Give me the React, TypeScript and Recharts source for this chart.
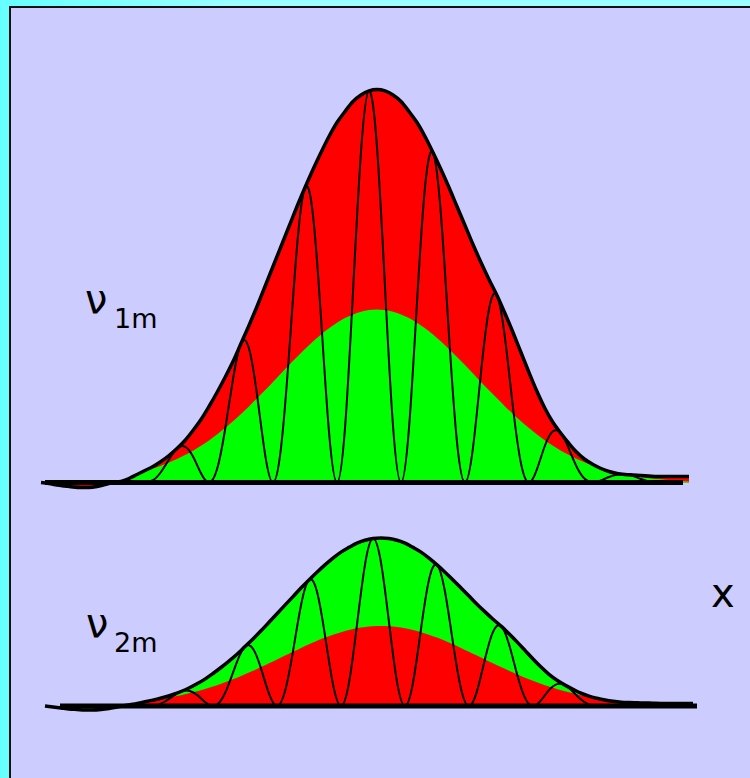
import React from 'react';
import { ComposedChart, Area, Line, XAxis, YAxis } from 'recharts';

// sample positions (px along the axis) for the upper and lower panels
const xTop = [
  41, 49, 57, 65, 73, 81, 89, 97, 105, 113,
  121, 129, 137, 145, 153, 161, 169, 177, 185, 193,
  201, 209, 217, 225, 233, 241, 249, 257, 265, 273,
  281, 289, 297, 305, 313, 321, 329, 337, 345, 353,
  361, 369, 377, 385, 393, 401, 409, 417, 425, 433,
  441, 449, 457, 465, 473, 481, 489, 497, 505, 513,
  521, 529, 537, 545, 553, 561, 569, 577, 585, 593,
  601, 609, 617, 625, 633, 641, 649, 657, 665, 673,
  681, 689,
];
const xBottom = [
  45, 53, 61, 69, 77, 85, 93, 101, 109, 117,
  125, 133, 141, 149, 157, 165, 173, 181, 189, 197,
  205, 213, 221, 229, 237, 245, 253, 261, 269, 277,
  285, 293, 301, 309, 317, 325, 333, 341, 349, 357,
  365, 373, 381, 389, 397, 405, 413, 421, 429, 437,
  445, 453, 461, 469, 477, 485, 493, 501, 509, 517,
  525, 533, 541, 549, 557, 565, 573, 581, 589, 597,
  605, 613, 621, 629, 637, 645, 653, 661, 669, 677,
  685, 693,
];

// upper panel: red envelope, green inner profile, oscillation
const topEnvelope = [
  0, -1, -2.5, -3.5, -4.5, -5, -5, -4, -2, 0,
  1, 4, 8, 12, 16, 21, 27, 34, 42, 52,
  63, 76, 90, 105, 121, 139, 157, 176, 196, 216,
  236, 256, 276, 295, 313, 330, 346, 360, 371, 381,
  387.5, 391.6, 393, 391.6, 387.5, 381, 371, 360, 346, 330,
  313, 295, 276, 257, 238, 220, 203, 187, 169, 150,
  130, 110, 91, 74, 60, 49, 39, 30, 23, 18,
  14, 11, 9, 8, 7.5, 7, 6.5, 6, 6, 6,
  6, 6,
];
const topInner = [
  0, 0, 0, 0, 0, 0, 0, 0, 0, 0,
  1, 4, 7.5, 11.5, 14.1, 16.8, 19.9, 23.4, 27.4, 31.8,
  36.8, 42.1, 48.1, 54.4, 61.3, 68.5, 76.1, 84.2, 92.3, 100.6,
  109, 117.4, 125.6, 133.5, 141, 147.9, 154.2, 159.7, 164.4, 168.1,
  170.8, 172.4, 173, 172.4, 170.8, 168.1, 164.4, 159.7, 154.2, 147.9,
  141, 133.5, 125.6, 117.4, 109, 100.6, 92.3, 84.2, 76.1, 68.5,
  61.3, 54.4, 48.1, 42.1, 36.8, 31.8, 27.4, 23.4, 19.9, 16.8,
  13.5, 10.5, 8.5, 7.5, 6.5, 5.3, 4.3, 3.4, 2.7, 2.0,
  1.5, 1.0,
];
const topWave = [
  null, null, null, null, null, null, null, null, null, null,
  null, null, null, 0, 2.3, 10.5, 23, 34, 35.9, 26,
  9.2, 0, 13.2, 52.5, 103.3, 139, 134, 88, 28.7, 0,
  34.6, 128, 235.6, 295, 267.2, 165, 50.7, 0, 54.3, 190.5,
  330.8, 391.6, 335.5, 195.8, 56.7, 0, 54.3, 180, 295.3, 330,
  267.2, 147.5, 40.4, 0, 34.8, 110, 173.3, 187, 144.3, 75,
  19, 0, 13.3, 37, 51.2, 49, 33.3, 15, 3.4, 0,
  2, 5.5, 7.7, 8, 6.4, 3.5, 1, 0, null, null,
  null, null,
];

// lower panel: green envelope, red inner profile, oscillation
const bottomEnvelope = [
  0, -1, -2, -3, -3.5, -4, -4, -3.5, -2.5, -1,
  0.5, 1.7, 3.4, 5.1, 6.8, 9, 11.5, 14.5, 18, 22.2,
  26.9, 32.5, 38.5, 44.9, 51.7, 59.4, 67.1, 75.2, 83.8, 92.3,
  100.9, 109.4, 118, 126.1, 133.8, 141.1, 147.9, 153.9, 158.6, 162.9,
  165.7, 167.4, 168, 167.4, 165.7, 162.9, 158.6, 153.9, 147.9, 141.1,
  133.8, 126.1, 118, 109.9, 101.7, 94.1, 86.8, 79.9, 72.2, 64.1,
  55.6, 47, 38.9, 31.6, 25.7, 20.9, 16.7, 12.8, 9.8, 7.7,
  6, 4.7, 3.8, 3.4, 3.2, 3, 2.8, 2.6, 2.6, 2.6,
  2.6, 2.6,
];
const bottomInner = [
  0, 0, 0, 0, 0, 0, 0, 0, 0, 0,
  0.3, 1.5, 3, 4.8, 6.3, 7.8, 9.2, 10.8, 12.7, 14.7,
  17, 19.5, 22.2, 25.2, 28.3, 31.7, 35.2, 38.9, 42.7, 46.5,
  50.4, 54.3, 58.1, 61.7, 65.2, 68.4, 71.3, 73.8, 76, 77.7,
  79, 79.7, 80, 79.7, 79, 77.7, 76, 73.8, 71.3, 68.4,
  65.2, 61.7, 58.1, 54.3, 50.4, 46.5, 42.7, 38.9, 35.2, 31.7,
  28.3, 25.2, 22.2, 19.5, 17, 14.7, 12.7, 10.8, 9, 7.2,
  5.5, 4.3, 3.4, 3, 2.8, 2.5, 2, 1.6, 1.2, 0.9,
  0.7, 0.5,
];
const bottomWave = [
  null, null, null, null, null, null, null, null, null, null,
  null, null, null, 0, 1, 4.5, 9.8, 14.5, 15.3, 11.1,
  3.9, 0, 5.6, 22.4, 44.2, 59.4, 57.3, 37.6, 12.3, 0,
  14.8, 54.7, 100.7, 126.1, 114.2, 70.5, 21.7, 0, 23.2, 81.4,
  141.4, 167.4, 143.4, 83.7, 24.2, 0, 23.2, 77, 126.2, 141.1,
  114.2, 63.1, 17.3, 0, 14.9, 47, 74.1, 79.9, 61.7, 32.1,
  8.1, 0, 5.7, 15.8, 21.9, 20.9, 14.2, 6.4, 1.5, 0,
  null, null, null, null, null, null, null, null, null, null,
  null, null,
];

// axis lines of each panel
const topBase = [{ x: 45, y: 0 }, { x: 683, y: 0 }];
const bottomBase = [{ x: 60, y: 0 }, { x: 697, y: 0 }];

const labelTop = { nu: 'ν', sub: '1m' };
const labelBottom = { nu: 'ν', sub: '2m' };
const axisLabel = 'x';

export default function App() {
  const topRows = xTop.map((x, i) => ({ x, env: topEnvelope[i], inner: topInner[i], wave: topWave[i] }));
  const bottomRows = xBottom.map((x, i) => ({ x, env: bottomEnvelope[i], inner: bottomInner[i], wave: bottomWave[i] }));
  const font = '"DejaVu Sans", sans-serif';
  return (
    <div
      style={{
        position: 'absolute', left: 0, top: 0, width: 750, height: 778, overflow: 'hidden',
        background: 'linear-gradient(to right, #66ffff 0%, #99ffff 30%, #99ffff 100%)',
      }}
    >
      <div
        style={{
          position: 'absolute', left: 9, top: 6, width: 800, height: 820,
          borderLeft: '2px solid #111', borderTop: '2px solid #111', background: '#ccccff',
        }}
      />
      <div style={{ position: 'absolute', left: 0, top: 0 }}>
        <ComposedChart width={750} height={778} margin={{ top: 0, right: 0, bottom: 0, left: 0 }}>
          <XAxis type="number" dataKey="x" domain={[0, 750]} hide allowDataOverflow />
          <YAxis yAxisId="top" type="number" domain={[-295.5, 482.5]} hide allowDataOverflow />
          <YAxis yAxisId="bottom" type="number" domain={[-72, 706]} hide allowDataOverflow />

          <Area yAxisId="top" data={topRows} dataKey="env" type="monotone" fill="#ff0000" fillOpacity={1} stroke="none" baseValue={0} dot={false} activeDot={false} isAnimationActive={false} />
          <Area yAxisId="top" data={topRows} dataKey="inner" type="monotone" fill="#00ff00" fillOpacity={1} stroke="none" baseValue={0} dot={false} activeDot={false} isAnimationActive={false} />
          <Area yAxisId="bottom" data={bottomRows} dataKey="env" type="monotone" fill="#00ff00" fillOpacity={1} stroke="none" baseValue={0} dot={false} activeDot={false} isAnimationActive={false} />
          <Area yAxisId="bottom" data={bottomRows} dataKey="inner" type="monotone" fill="#ff0000" fillOpacity={1} stroke="none" baseValue={0} dot={false} activeDot={false} isAnimationActive={false} />

          <Line yAxisId="top" data={topBase} dataKey="y" type="linear" stroke="#000" strokeWidth={5} dot={false} activeDot={false} isAnimationActive={false} />
          <Line yAxisId="bottom" data={bottomBase} dataKey="y" type="linear" stroke="#000" strokeWidth={5} dot={false} activeDot={false} isAnimationActive={false} />

          <Line yAxisId="top" data={topRows} dataKey="wave" type="natural" stroke="#000" strokeWidth={2} dot={false} activeDot={false} isAnimationActive={false} />
          <Line yAxisId="bottom" data={bottomRows} dataKey="wave" type="natural" stroke="#000" strokeWidth={2} dot={false} activeDot={false} isAnimationActive={false} />

          <Line yAxisId="top" data={topRows} dataKey="env" type="monotone" stroke="#000" strokeWidth={3.5} dot={false} activeDot={false} isAnimationActive={false} />
          <Line yAxisId="bottom" data={bottomRows} dataKey="env" type="monotone" stroke="#000" strokeWidth={3.5} dot={false} activeDot={false} isAnimationActive={false} />
        </ComposedChart>
      </div>
      <svg width={750} height={778} style={{ position: 'absolute', left: 0, top: 0, pointerEvents: 'none' }}>
        <text x={85} y={313} fontFamily={font} fontSize={40} fill="#000">{labelTop.nu}</text>
        <text x={114} y={328} fontFamily={font} fontSize={27} fill="#000">{labelTop.sub}</text>
        <text x={86} y={637} fontFamily={font} fontSize={40} fill="#000">{labelBottom.nu}</text>
        <text x={114} y={652} fontFamily={font} fontSize={27} fill="#000">{labelBottom.sub}</text>
        <text x={711} y={607} fontFamily={font} fontSize={40} fill="#000">{axisLabel}</text>
      </svg>
    </div>
  );
}
